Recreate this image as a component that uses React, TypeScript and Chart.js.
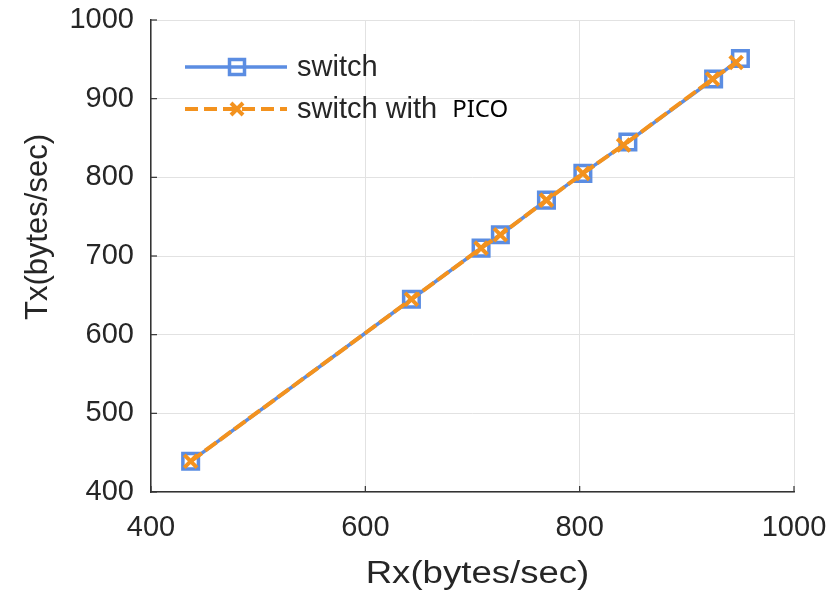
import React, { useEffect, useRef } from "react";
import { Chart, registerables } from "chart.js";

Chart.register(...registerables);

// Data
const rxSwitch = [437, 643, 708, 726, 769, 803, 845, 925, 950];
const txSwitch = [439, 645, 710, 727, 771, 805, 845, 925, 951];
const rxPico = [437, 643, 708, 726, 769, 803, 841, 924, 946];
const txPico = [439, 645, 710, 727, 771, 805, 841, 925, 946];
const xTicks = [400, 600, 800, 1000];
const yTicks = [400, 500, 600, 700, 800, 900, 1000];
const seriesNames = ["switch", "switch with"];
const seriesSuffix = "PICO";
const xTitle = "Rx(bytes/sec)";
const yTitle = "Tx(bytes/sec)";

const BLUE = "#5b8de2";
const ORANGE = "#f3921e";
const TEXT = "#262626";

export default function App() {
  const ref = useRef<HTMLCanvasElement | null>(null);

  useEffect(() => {
    document.body.style.margin = "0";
    const canvas = ref.current;
    if (!canvas) return;

    const extras = {
      id: "extras",
      afterDraw(chart: any) {
        const ctx = chart.ctx;
        const xs = chart.scales.x;
        const ys = chart.scales.y;
        const area = chart.chartArea;
        ctx.save();
        // inward tick marks
        ctx.strokeStyle = "#333333";
        ctx.lineWidth = 1.2;
        ys.ticks.forEach((t: any) => {
          const p = ys.getPixelForValue(t.value);
          ctx.beginPath();
          ctx.moveTo(area.left, p);
          ctx.lineTo(area.left + 6, p);
          ctx.stroke();
        });
        xs.ticks.forEach((t: any) => {
          const p = xs.getPixelForValue(t.value);
          ctx.beginPath();
          ctx.moveTo(p, area.bottom);
          ctx.lineTo(p, area.bottom - 6);
          ctx.stroke();
        });

        // legend
        const lx0 = 185, lx1 = 287, mx = 237;
        const r1 = 67, r2 = 109;
        ctx.lineCap = "butt";
        ctx.strokeStyle = BLUE;
        ctx.lineWidth = 3.5;
        ctx.setLineDash([]);
        ctx.beginPath();
        ctx.moveTo(lx0, r1);
        ctx.lineTo(lx1, r1);
        ctx.stroke();
        ctx.strokeRect(mx - 7.5, r1 - 7.5, 15, 15);

        ctx.strokeStyle = ORANGE;
        ctx.lineWidth = 4;
        ctx.setLineDash([13, 6]);
        ctx.beginPath();
        ctx.moveTo(lx0, r2);
        ctx.lineTo(lx1, r2);
        ctx.stroke();
        ctx.setLineDash([]);
        ctx.beginPath();
        ctx.moveTo(mx - 6, r2 - 6);
        ctx.lineTo(mx + 6, r2 + 6);
        ctx.moveTo(mx + 6, r2 - 6);
        ctx.lineTo(mx - 6, r2 + 6);
        ctx.stroke();

        ctx.fillStyle = TEXT;
        ctx.textBaseline = "middle";
        ctx.textAlign = "left";
        ctx.font = "29px 'Liberation Sans', Arial, sans-serif";
        ctx.fillText(seriesNames[0], 297, r1 + 1);
        ctx.fillText(seriesNames[1], 297, r2 + 1);
        const w = ctx.measureText(seriesNames[1]).width;
        ctx.fillStyle = "#000000";
        ctx.font = "24px 'Noto Sans', sans-serif";
        ctx.fillText(seriesSuffix, 297 + w + 15, r2 + 1);

        // axis titles
        ctx.fillStyle = TEXT;
        ctx.font = "31px 'Liberation Sans', Arial, sans-serif";
        ctx.textAlign = "center";
        ctx.textBaseline = "alphabetic";
        ctx.save();
        ctx.translate((area.left + area.right) / 2 + 5, 583);
        ctx.scale(1.18, 1);
        ctx.fillText(xTitle, 0, 0);
        ctx.restore();

        ctx.save();
        ctx.translate(47, 227);
        ctx.rotate(-Math.PI / 2);
        ctx.fillText(yTitle, 0, 0);
        ctx.restore();
        ctx.restore();
      },
    };

    const chart = new Chart(canvas, {
      type: "line",
      data: {
        datasets: [
          {
            label: seriesNames[0],
            data: rxSwitch.map((x, i) => ({ x, y: txSwitch[i] })),
            borderColor: BLUE,
            borderWidth: 3.5,
            pointStyle: "rect",
            pointRadius: 11,
            pointBorderWidth: 3.5,
            pointBorderColor: BLUE,
            pointBackgroundColor: "rgba(0,0,0,0)",
            fill: false,
            tension: 0,
            order: 2,
          },
          {
            label: seriesNames[1] + " " + seriesSuffix,
            data: rxPico.map((x, i) => ({ x, y: txPico[i] })),
            borderColor: ORANGE,
            borderWidth: 4,
            borderDash: [14, 4],
            pointStyle: "crossRot",
            pointRadius: 9,
            pointBorderWidth: 4,
            pointBorderColor: ORANGE,
            pointBackgroundColor: ORANGE,
            fill: false,
            tension: 0,
            order: 1,
          },
        ],
      },
      options: {
        responsive: false,
        animation: false,
        layout: { padding: { left: 0, right: 43, top: 20, bottom: 0 } },
        plugins: {
          legend: { display: false },
          tooltip: { enabled: false },
        },
        scales: {
          x: {
            type: "linear",
            min: 400,
            max: 1000,
            afterBuildTicks: (s: any) => {
              s.ticks = xTicks.map((v) => ({ value: v }));
            },
            afterFit: (s: any) => {
              s.height = 102;
              s.paddingLeft = 0;
              s.paddingRight = 0;
            },
            grid: {
              color: "#e2e2e2",
              lineWidth: 1,
              drawTicks: false,
              tickLength: 0,
            },
            border: { display: true, color: "#333333", width: 1.5 },
            ticks: {
              padding: 19,
              color: TEXT,
              font: { family: "'Liberation Sans', Arial, sans-serif", size: 29 },
              maxRotation: 0,
              callback: (v: any) => String(v),
            },
          },
          y: {
            type: "linear",
            min: 400,
            max: 1000,
            afterBuildTicks: (s: any) => {
              s.ticks = yTicks.map((v) => ({ value: v }));
            },
            afterFit: (s: any) => {
              s.width = 151;
              s.paddingTop = 0;
              s.paddingBottom = 0;
            },
            grid: {
              color: "#e2e2e2",
              lineWidth: 1,
              drawTicks: false,
              tickLength: 0,
            },
            border: { display: true, color: "#333333", width: 1.5 },
            ticks: {
              padding: 17,
              color: TEXT,
              font: { family: "'Liberation Sans', Arial, sans-serif", size: 29 },
              callback: (v: any) => String(v),
            },
          },
        },
      },
      plugins: [extras],
    });

    return () => chart.destroy();
  }, []);

  return (
    <div style={{ width: 837, height: 594 }}>
      <canvas ref={ref} width={837} height={594} style={{ display: "block", width: 837, height: 594 }} />
    </div>
  );
}
